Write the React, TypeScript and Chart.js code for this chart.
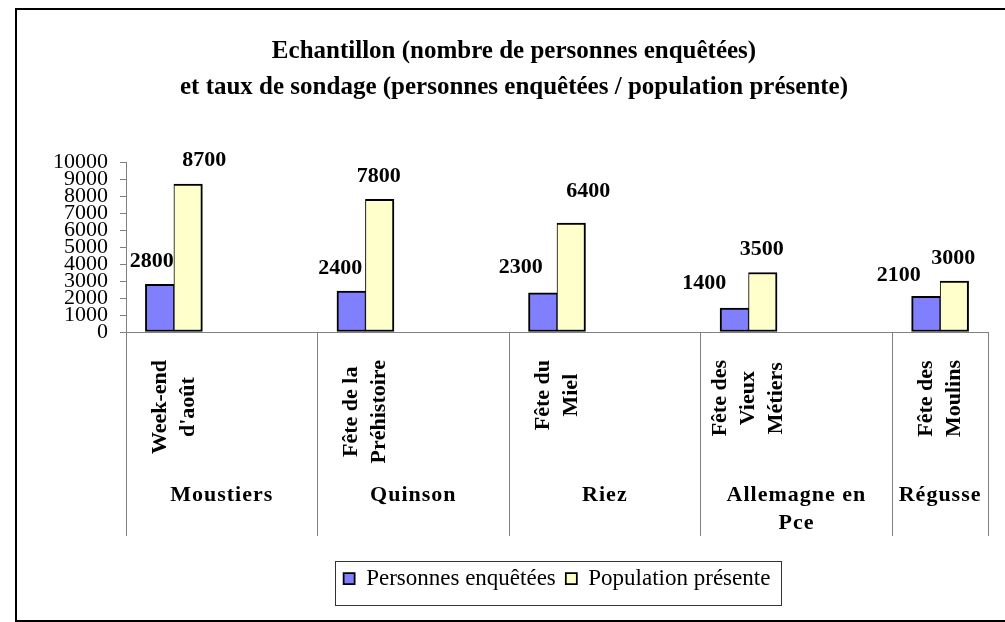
import React, { useEffect, useRef } from 'react';
import { Chart, registerables } from 'chart.js';

Chart.register(...registerables);

// ---------- data ----------
const titleLines = [
  'Echantillon (nombre de personnes enquêtées)',
  'et taux de sondage (personnes enquêtées / population présente)',
];
const communes = [['Moustiers'], ['Quinson'], ['Riez'], ['Allemagne en', 'Pce'], ['Régusse']];
const events = [
  ['Week-end', "d'août"],
  ['Fête de la', 'Préhistoire'],
  ['Fête du', 'Miel'],
  ['Fête des', 'Vieux', 'Métiers'],
  ['Fête des', 'Moulins'],
];
const seriesNames = ['Personnes enquêtées', 'Population présente'];
const personnesEnquetees = [2800, 2400, 2300, 1400, 2100];
const populationPresente = [8700, 7800, 6400, 3500, 3000];
const yMin = 0;
const yMax = 10000;
const yStep = 1000;

// ---------- style ----------
const FONT = "'Liberation Serif', 'Times New Roman', Times, serif";
const AXIS_GREY = '#808080';
const COLORS = ['#8080FF', '#FFFFCC'];
const X_PAD = 0.25; // axis padding, in category units
const BAR_THICKNESS = 28.5;
// manual label nudges (as in the original, where labels were moved by hand)
const LABEL_DX = [
  [-8, -11, -22, -30, -27],
  [16, -1, 17, -1, -1],
];
const LABEL_DY = [
  [-23, -23, -26, -25, -21],
  [-24, -23, -32, -23, -23],
];

const boundaries = [...communes.map((_, i) => i - X_PAD), communes.length - 1 + X_PAD];

const categoryAxisPlugin = {
  id: 'categoryAxisLabels',
  afterDraw(chart: any) {
    const ctx = chart.ctx;
    const xs = chart.scales.x;
    const area = chart.chartArea;
    ctx.save();
    ctx.fillStyle = '#000';
    // inner level: rotated event names
    ctx.font = `bold 22px ${FONT}`;
    events.forEach((lines, i) => {
      const cx = xs.getPixelForValue(i);
      const maxW = Math.max(...lines.map((l) => ctx.measureText(l).width));
      const cy = area.bottom + 28 + maxW / 2;
      lines.forEach((line, j) => {
        const lx = cx + (j - (lines.length - 1) / 2) * 28;
        ctx.save();
        ctx.translate(lx, cy);
        ctx.rotate(-Math.PI / 2);
        ctx.textAlign = 'center';
        ctx.textBaseline = 'middle';
        ctx.fillText(line, 0, 0);
        ctx.restore();
      });
    });
    // outer level: communes
    (ctx as any).letterSpacing = '1px';
    communes.forEach((lines, i) => {
      const l = xs.getPixelForValue(boundaries[i]);
      const r = xs.getPixelForValue(boundaries[i + 1]);
      const cx = (l + r) / 2;
      lines.forEach((line, j) => {
        ctx.textAlign = 'center';
        ctx.textBaseline = 'alphabetic';
        ctx.fillText(line, cx, area.bottom + 168.5 + j * 28.5);
      });
    });
    (ctx as any).letterSpacing = '0px';
    // legend frame
    const lg = chart.legend;
    if (lg && lg.legendHitBoxes && lg.legendHitBoxes.length) {
      const hb = lg.legendHitBoxes;
      const left = Math.min(...hb.map((b: any) => b.left)) - 9;
      const right = Math.max(...hb.map((b: any) => b.left + b.width)) + 10;
      const top = hb[0].top - 6;
      const bottom = hb[0].top + hb[0].height + 15;
      ctx.strokeStyle = '#333';
      ctx.lineWidth = 1;
      ctx.strokeRect(Math.round(left) + 0.5, Math.round(top) + 0.5, Math.round(right - left), Math.round(bottom - top));
    }
    ctx.restore();
  },
  afterDatasetsDraw(chart: any) {
    const ctx = chart.ctx;
    ctx.save();
    ctx.font = `bold 22px ${FONT}`;
    ctx.fillStyle = '#000';
    ctx.textAlign = 'center';
    ctx.textBaseline = 'middle';
    chart.data.datasets.forEach((ds: any, di: number) => {
      const meta = chart.getDatasetMeta(di);
      meta.data.forEach((el: any, i: number) => {
        ctx.fillText(String(ds.data[i].y), el.x + LABEL_DX[di][i], el.y + LABEL_DY[di][i]);
      });
    });
    ctx.restore();
  },
};

export default function App() {
  const ref = useRef<HTMLCanvasElement | null>(null);

  useEffect(() => {
    if (!ref.current) return;
    Chart.defaults.font.family = FONT;
    Chart.defaults.color = '#000';
    const chart = new Chart(ref.current, {
      type: 'bar',
      data: {
        datasets: [
          {
            label: seriesNames[0],
            data: personnesEnquetees.map((v, i) => ({ x: i, y: v })),
            backgroundColor: COLORS[0],
            borderColor: '#000',
            borderWidth: { top: 2, left: 2, bottom: 2, right: 1 },
            borderSkipped: false,
            barThickness: BAR_THICKNESS,
          },
          {
            label: seriesNames[1],
            data: populationPresente.map((v, i) => ({ x: i, y: v })),
            backgroundColor: COLORS[1],
            borderColor: '#000',
            borderWidth: { top: 2, left: 1, bottom: 2, right: 2 },
            borderSkipped: false,
            barThickness: BAR_THICKNESS,
          },
        ],
      },
      options: {
        responsive: false,
        animation: false,
        layout: { padding: { left: 40, right: 17, top: 0, bottom: 22 } },
        plugins: {
          title: {
            display: true,
            text: titleLines,
            color: '#000',
            font: { family: FONT, size: 25, weight: 'bold', lineHeight: '36px' },
            padding: { top: 34, bottom: 56 },
          },
          legend: {
            position: 'bottom',
            fullSize: false,
            labels: {
              font: { family: FONT, size: 23 },
              color: '#000',
              boxWidth: 11,
              boxHeight: 11,
              padding: 10,
            },
          },
          tooltip: { enabled: false },
        },
        scales: {
          x: {
            type: 'linear',
            min: boundaries[0],
            max: boundaries[boundaries.length - 1],
            offset: false,
            afterBuildTicks: (axis: any) => {
              axis.ticks = boundaries.map((v) => ({ value: v }));
            },
            afterFit: (axis: any) => {
              axis.height = 225;
            },
            ticks: { display: false },
            grid: {
              offset: false,
              drawOnChartArea: false,
              drawTicks: true,
              tickLength: 204,
              color: AXIS_GREY,
              lineWidth: 1,
            },
            border: { display: true, color: AXIS_GREY, width: 1 },
          },
          y: {
            min: yMin,
            max: yMax,
            afterFit: (axis: any) => {
              axis.width = 86;
            },
            ticks: {
              stepSize: yStep,
              autoSkip: false,
              padding: 12,
              color: '#000',
              font: { family: FONT, size: 22 },
              callback: (v: any) => String(v),
            },
            grid: {
              drawOnChartArea: false,
              drawTicks: true,
              tickLength: 6,
              color: AXIS_GREY,
            },
            border: { display: true, color: AXIS_GREY, width: 1 },
          },
        },
      } as any,
      plugins: [categoryAxisPlugin],
    });
    return () => chart.destroy();
  }, []);

  return (
    <div
      style={{
        position: 'fixed',
        left: 0,
        top: 0,
        width: 1005,
        height: 622,
        overflow: 'hidden',
        background: '#fff',
      }}
    >
      <canvas
        ref={ref}
        width={1005}
        height={622}
        style={{ position: 'absolute', left: 0, top: 0 }}
      />
      <div
        style={{
          position: 'absolute',
          left: 15,
          top: 8,
          width: 1010,
          height: 614,
          border: '2px solid #000',
          boxSizing: 'border-box',
          pointerEvents: 'none',
        }}
      />
    </div>
  );
}
